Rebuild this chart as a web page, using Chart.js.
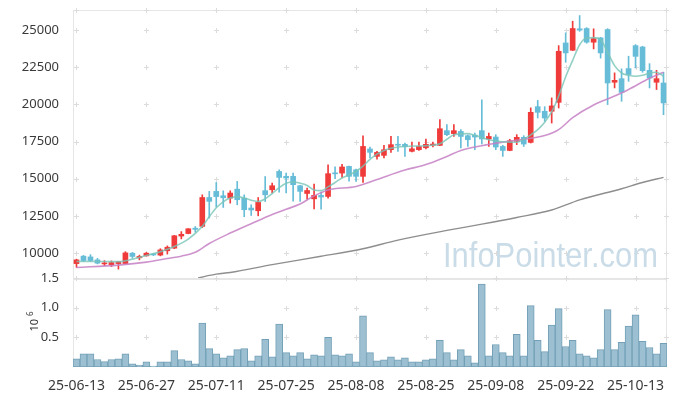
<!DOCTYPE html>
<html>
<head>
<meta charset="utf-8">
<script src="https://cdn.jsdelivr.net/npm/chart.js@4.4.1/dist/chart.umd.min.js"></script>
<style>
  html, body { margin: 0; padding: 0; background: #fff; }
  #wrap { position: relative; width: 677px; height: 396px; }
  #chartVol { position: absolute; left: 0; top: 268px; }
  #chartPrice { position: absolute; left: 0; top: 0; }
</style>
</head>
<body>
<div id="wrap">
  <canvas id="chartVol" width="677" height="128"></canvas>
  <canvas id="chartPrice" width="677" height="278"></canvas>
</div>
<script>
// trading days (x axis)
const dates = [
  '25-06-13','25-06-16','25-06-17','25-06-18','25-06-19','25-06-20','25-06-23','25-06-24','25-06-25','25-06-26',
  '25-06-27','25-06-30','25-07-01','25-07-02','25-07-03','25-07-04','25-07-07','25-07-08','25-07-09','25-07-10',
  '25-07-11','25-07-14','25-07-15','25-07-16','25-07-17','25-07-18','25-07-21','25-07-22','25-07-23','25-07-24',
  '25-07-25','25-07-28','25-07-29','25-07-30','25-07-31','25-08-01','25-08-04','25-08-05','25-08-06','25-08-07',
  '25-08-08','25-08-11','25-08-12','25-08-13','25-08-14','25-08-18','25-08-19','25-08-20','25-08-21','25-08-22',
  '25-08-25','25-08-26','25-08-27','25-08-28','25-08-29','25-09-01','25-09-02','25-09-03','25-09-04','25-09-05',
  '25-09-08','25-09-09','25-09-10','25-09-11','25-09-12','25-09-15','25-09-16','25-09-17','25-09-18','25-09-19',
  '25-09-22','25-09-23','25-09-24','25-09-25','25-09-26','25-09-29','25-09-30','25-10-01','25-10-02','25-10-10',
  '25-10-13','25-10-14','25-10-15','25-10-16','25-10-17'
];
const tickIdx = [0, 10, 20, 30, 40, 50, 60, 70, 80];
const priceTicks = [10000, 12500, 15000, 17500, 20000, 22500, 25000];
const volTicks = [500, 1000, 1500]; // thousands of shares

const opens = [
  9300, 9800, 9750, 9550, 9280, 9230, 9300, 9300, 10000, 9690,
  9820, 9950, 9870, 10160, 10340, 11150, 11320, 11680, 11800, 13740,
  14150, 13860, 13700, 14300, 13700, 13030, 12850, 14200, 14260, 15490,
  15160, 15160, 14530, 14010, 13650, 13880, 13810, 15370, 15380, 15830,
  15600, 15160, 17000, 16500, 16570, 16950, 17300, 17310, 16840, 16950,
  17080, 17240, 17240, 18230, 18030, 18180, 17890, 17930, 18230, 17670,
  17800, 17170, 16900, 17510, 17780, 17440, 19840, 19530, 19530, 20130,
  24120, 23630, 25070, 25090, 24170, 24460, 25020, 21480, 21720, 22400,
  23940, 23850, 22280, 21480, 21430
];
const highs = [
  9600, 9850, 9900, 9650, 9500, 9480, 9450, 10100, 10050, 9870,
  10050, 9980, 10300, 10490, 11200, 11450, 11650, 11790, 13920, 14150,
  14750, 14190, 14190, 14820, 13920, 13250, 13740, 15150, 14710, 15600,
  15380, 15380, 14550, 14370, 14640, 14100, 15940, 15800, 15960, 15850,
  15650, 17890, 17130, 16840, 17240, 17840, 17840, 17400, 17470, 17470,
  17670, 17470, 18970, 18630, 18630, 18300, 17950, 18070, 20300, 18070,
  17960, 17250, 17650, 17960, 17890, 19760, 20260, 19840, 20430, 23940,
  24800, 25580, 25960, 25150, 25070, 24500, 25080, 22110, 22380, 23230,
  24010, 23900, 22730, 22280, 22150
];
const lows = [
  9050, 9450, 9450, 9280, 9170, 9100, 8930, 9280, 9670, 9550,
  9800, 9840, 9820, 9940, 10300, 10960, 11300, 11410, 11720, 12360,
  13100, 13070, 13360, 13250, 12450, 12530, 12510, 13470, 14040, 14100,
  14040, 13500, 13480, 13630, 12980, 12950, 13700, 15000, 15090, 14830,
  14820, 14750, 16390, 16320, 16390, 16770, 16840, 16500, 16800, 16900,
  17010, 17130, 17220, 17900, 17840, 17070, 17170, 16950, 17330, 17170,
  16950, 16500, 16880, 17290, 17170, 17400, 19080, 18850, 18740, 19750,
  22820, 23600, 24900, 24100, 23720, 23100, 19980, 21100, 20200, 21540,
  22440, 22150, 21100, 20990, 19300
];
const closes = [
  9550, 9500, 9500, 9330, 9330, 9370, 9420, 10020, 9780, 9780,
  10000, 9880, 10220, 10400, 11170, 11270, 11640, 11600, 13740, 13480,
  13800, 13720, 14040, 13590, 12920, 12900, 13410, 13920, 14530, 15090,
  15050, 14600, 14150, 14210, 13880, 13770, 15340, 15330, 15790, 15160,
  15160, 17170, 16770, 16770, 16950, 17290, 17250, 17150, 17010, 17170,
  17310, 17330, 18360, 17960, 18230, 17840, 17620, 17800, 17670, 17840,
  17130, 16900, 17550, 17780, 17330, 19460, 19460, 19080, 19890, 23560,
  23450, 25090, 24980, 24170, 24410, 23450, 21430, 21610, 20800, 22000,
  23220, 22260, 21770, 21720, 20090
];
// volume, thousands of shares
const volume = [
  138, 224, 224, 126, 91, 126, 138, 224, 52, 34,
  86, 17, 86, 86, 276, 126, 103, 52, 741, 310,
  224, 155, 190, 293, 310, 103, 190, 466, 172, 724,
  241, 190, 241, 138, 207, 190, 500, 207, 190, 224,
  86, 862, 241, 103, 121, 172, 121, 155, 86, 86,
  121, 138, 448, 241, 121, 293, 190, 69, 1397, 190,
  379, 241, 190, 552, 190, 1034, 448, 259, 707, 983,
  345, 448, 224, 190, 155, 293, 966, 293, 414, 690,
  879, 431, 328, 224, 397
];
// moving averages: [day index, price]
const maShort = [
  [0, 9440], [4, 9440], [6, 9430], [8, 9600], [10, 9850], [12, 10100], [14, 10450], [16, 10950],
  [18, 11800], [19, 12450], [20, 13050], [21, 13450], [22, 13700], [23, 13800], [24, 13700],
  [25, 13560], [26, 13470], [27, 13650], [28, 14000], [29, 14400], [30, 14700], [31, 14780],
  [32, 14700], [33, 14550], [34, 14250], [35, 14200], [36, 14450], [37, 14750], [38, 15050],
  [39, 15250], [40, 15500], [41, 15850], [42, 16300], [43, 16650], [44, 16900], [45, 17050],
  [47, 17170], [50, 17220], [52, 17350], [53, 17650], [54, 17950], [56, 18030], [57, 17920],
  [59, 17620], [61, 17480], [63, 17450], [64, 17650], [65, 17950], [66, 18300], [67, 18800],
  [68, 19500], [69, 20550], [70, 21850], [71, 22950], [72, 24000], [73, 24450], [74, 24480],
  [75, 24350], [76, 23500], [77, 22600], [78, 22100], [79, 21950], [80, 21880], [81, 21950],
  [82, 22100], [83, 22150], [84, 21880]
];
const maMid = [
  [0, 9040], [6, 9200], [10, 9400], [13, 9640], [15, 9800], [17, 10060], [19, 10650], [22, 11350],
  [25, 11980], [28, 12600], [30, 12950], [32, 13300], [34, 13850], [36, 14250], [40, 14480],
  [43, 14950], [47, 15580], [50, 15950], [53, 16500], [55, 16900], [58, 17220], [61, 17460],
  [64, 17650], [67, 17900], [69, 18300], [71, 19100], [74, 19950], [77, 20550], [79, 20990],
  [82, 21750], [84, 22150]
];
const maLong = [
  [17.4, 8340], [20, 8590], [22, 8700], [28, 9230], [35, 9790], [41, 10300], [46, 10880],
  [53, 11530], [58, 11950], [63, 12400], [68, 12900], [72, 13580], [78, 14330], [81, 14750], [84, 15090]
];

const UP = '#f03b3b';
const DOWN = '#67bdd8';
const TXT = '#3a3a3a';
const candleColors = opens.map((o, i) => closes[i] >= opens[i] ? UP : DOWN);

// crosses at grid intersections + light frame
const frameMarks = {
  id: 'frameMarks',
  beforeDatasetsDraw(chart, args, opts) {
    const { ctx, chartArea: a, scales } = chart;
    ctx.save();
    ctx.fillStyle = '#e6e6e6';
    ctx.fillRect(a.left, a.top, a.right - a.left, 1);
    ctx.fillRect(a.left, a.top, 1, a.bottom - a.top);
    ctx.fillRect(a.right - 1, a.top, 1, a.bottom - a.top);
    if (opts.thickTop) ctx.fillRect(a.left, a.top, a.right - a.left, 2);
    if (opts.bottom) ctx.fillRect(a.left, a.bottom - 1, a.right - a.left, 1);

    const xs = tickIdx.map(v => Math.round(scales.x.getPixelForValue(v)) + 0.5);
    xs.push(a.right - 0.5);
    const ys = opts.yTicks.map(v => Math.round(scales.y.getPixelForValue(v)) + 0.5);
    ys.push(a.top + 0.5);
    ctx.strokeStyle = '#dcdcdc';
    ctx.lineWidth = 1;
    ctx.beginPath();
    xs.forEach(x => ys.forEach(y => {
      ctx.moveTo(x - 2.5, y); ctx.lineTo(x + 2.5, y);
      ctx.moveTo(x, y - 2.5); ctx.lineTo(x, y + 2.5);
    }));
    ctx.stroke();

    if (opts.watermark) {
      ctx.font = '35px "Liberation Sans", Arial, sans-serif';
      ctx.fillStyle = '#cadce7';
      ctx.textBaseline = 'alphabetic';
      const w = ctx.measureText('InfoPointer.com').width;
      ctx.translate(443, 266.5);
      ctx.scale(215 / w, 1);
      ctx.fillText('InfoPointer.com', 0, 0);
    }
    ctx.restore();
  },
  afterDraw(chart, args, opts) {
    if (!opts.unitLabel) return;
    const ctx = chart.ctx;
    ctx.save();
    ctx.translate(37.5, 63.5);
    ctx.rotate(-Math.PI / 2);
    ctx.fillStyle = TXT;
    ctx.textBaseline = 'alphabetic';
    ctx.font = '11px "Noto Sans", sans-serif';
    ctx.fillText('10', 0, 0);
    ctx.font = '8px "Noto Sans", sans-serif';
    ctx.fillText('6', 15.5, -4.5);
    ctx.restore();
  }
};

// fixed axis width, no extra room asked for the edge labels
function fixWidth(s) {
  s.width = 73;
  s.paddingTop = 0;
  s.paddingBottom = 0;
}

function xAxis(show) {
  return {
    type: 'linear',
    min: -0.5,
    max: 84.5,
    offset: false,
    display: show,
    grid: { display: false, offset: false },
    border: { display: false },
    afterBuildTicks: s => { s.ticks = tickIdx.map(v => ({ value: v })); },
    ticks: {
      autoSkip: false,
      maxRotation: 0,
      padding: 3,
      color: TXT,
      font: { family: 'Noto Sans', size: 14 },
      callback: v => dates[v] || ''
    },
    afterFit: s => { s.height = show ? 29 : 0; }
  };
}

Chart.defaults.animation = false;

const priceChart = new Chart(document.getElementById('chartPrice'), {
  type: 'bar',
  data: {
    datasets: [
      {
        type: 'line', label: 'MA short',
        data: maShort.map(p => ({ x: p[0], y: p[1] })),
        borderColor: 'rgba(120,196,182,0.8)', borderWidth: 1.6,
        pointRadius: 0, cubicInterpolationMode: 'monotone', order: 0
      },
      {
        type: 'line', label: 'MA mid',
        data: maMid.map(p => ({ x: p[0], y: p[1] })),
        borderColor: 'rgba(198,128,196,0.85)', borderWidth: 1.6,
        pointRadius: 0, cubicInterpolationMode: 'monotone', order: 0
      },
      {
        type: 'line', label: 'MA long',
        data: maLong.map(p => ({ x: p[0], y: p[1] })),
        borderColor: '#8e8e8e', borderWidth: 1.4,
        pointRadius: 0, cubicInterpolationMode: 'monotone', order: 0
      },
      {
        label: 'body',
        data: opens.map((o, i) => ({ x: i, y: [o, closes[i]] })),
        backgroundColor: candleColors,
        barThickness: 5, minBarLength: 1, grouped: false, borderSkipped: false, order: 1
      },
      {
        label: 'wick',
        data: lows.map((l, i) => ({ x: i, y: [l, highs[i]] })),
        backgroundColor: candleColors,
        barThickness: 1, grouped: false, borderSkipped: false, order: 2
      }
    ]
  },
  options: {
    responsive: false,
    layout: { padding: { top: 10, right: 10, bottom: 0, left: 0 } },
    scales: {
      x: xAxis(false),
      y: {
        min: 8333,
        max: 26333,
        grid: { display: false },
        border: { display: false },
        afterBuildTicks: s => { s.ticks = priceTicks.map(v => ({ value: v })); },
        ticks: { padding: 6, color: TXT, font: { family: 'Noto Sans', size: 13 }, callback: v => String(v) },
        afterFit: fixWidth
      }
    },
    plugins: {
      legend: { display: false },
      tooltip: { enabled: false },
      frameMarks: { yTicks: priceTicks, watermark: true }
    }
  },
  plugins: [frameMarks]
});

const volChart = new Chart(document.getElementById('chartVol'), {
  type: 'bar',
  data: {
    datasets: [{
      label: 'volume',
      data: volume.map((v, i) => ({ x: i, y: v })),
      backgroundColor: '#9cc0d1',
      borderColor: '#73a0b7',
      borderWidth: 1,
      borderSkipped: false,
      barPercentage: 1,
      categoryPercentage: 1
    }]
  },
  options: {
    responsive: false,
    layout: { padding: { top: 10, right: 10, bottom: 0, left: 0 } },
    scales: {
      x: xAxis(true),
      y: {
        min: 0,
        max: 1500,
        grid: { display: false },
        border: { display: false },
        afterBuildTicks: s => { s.ticks = volTicks.map(v => ({ value: v })); },
        ticks: { padding: 6, color: TXT, font: { family: 'Noto Sans', size: 13 }, callback: v => (v / 1000).toFixed(1) },
        afterFit: fixWidth
      }
    },
    plugins: {
      legend: { display: false },
      tooltip: { enabled: false },
      frameMarks: { yTicks: volTicks, thickTop: true, bottom: true, unitLabel: true }
    }
  },
  plugins: [frameMarks]
});
</script>
</body>
</html>
